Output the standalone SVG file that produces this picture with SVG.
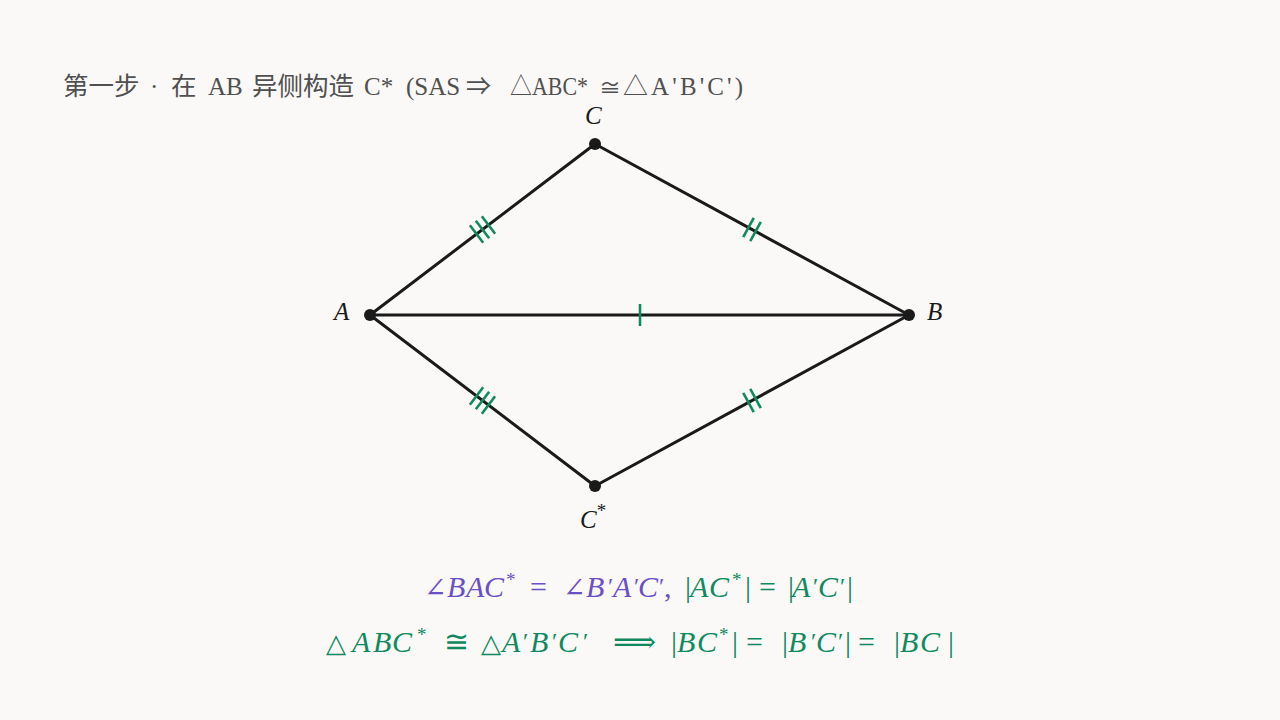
<svg xmlns="http://www.w3.org/2000/svg" width="1280" height="720" viewBox="0 0 1280 720">
<style>
.edge{stroke:#1a1a1a;stroke-width:3;stroke-linecap:round;fill:none}
.tick{stroke:#0f8a5f;stroke-width:2.6;fill:none}
.dot{fill:#1a1a1a}
.lbl{font-family:"Liberation Serif",serif;font-style:italic;font-size:25px;fill:#1a1a1a}
.title{font-family:"Liberation Serif","Noto Sans CJK SC",serif;font-size:25px;fill:#505050}
.cjk{font-family:"Noto Sans CJK SC",sans-serif;font-size:25.5px}
.math{font-family:"Liberation Serif","DejaVu Serif",serif;font-size:30px}
.i{font-style:italic}
.sup{font-size:19px}
.pr{font-size:24px}
.ang{font-size:27px}
.tri{font-size:26px}
.pur{fill:#6a4fc8}
.grn{fill:#0f8a5f}
</style>
<rect width="1280" height="720" fill="#faf9f7"/>
<text class="title" y="95"><tspan class="cjk" x="63">第一步</tspan><tspan x="150">·</tspan><tspan class="cjk" x="171">在</tspan><tspan x="208">AB</tspan><tspan class="cjk" x="252">异侧构造</tspan><tspan x="364">C*</tspan><tspan x="406">(SAS</tspan><tspan x="466">⇒</tspan><tspan x="510" textLength="78" lengthAdjust="spacingAndGlyphs">△ABC*</tspan><tspan x="599" font-size="22">≅</tspan><tspan x="623" textLength="120" lengthAdjust="spacing">△A'B'C')</tspan></text>
<g id="connectors">
<line class="edge" x1="370" y1="315" x2="595" y2="144"/>
<line class="edge" x1="595" y1="144" x2="909" y2="315"/>
<line class="edge" x1="370" y1="315" x2="909" y2="315"/>
<line class="edge" x1="370" y1="315" x2="595" y2="486"/>
<line class="edge" x1="595" y1="486" x2="909" y2="315"/>
<g transform="translate(482.5,229.5) rotate(-37.2)"><line class="tick" x1="-7.5" y1="-11" x2="-7.5" y2="11"/><line class="tick" x1="0" y1="-11" x2="0" y2="11"/><line class="tick" x1="7.5" y1="-11" x2="7.5" y2="11"/></g>
<g transform="translate(752,229.5) rotate(28.6)"><line class="tick" x1="-4" y1="-11" x2="-4" y2="11"/><line class="tick" x1="4" y1="-11" x2="4" y2="11"/></g>
<g transform="translate(640,315)"><line class="tick" x1="0" y1="-11" x2="0" y2="11"/></g>
<g transform="translate(482.5,400.5) rotate(37.2)"><line class="tick" x1="-7.5" y1="-11" x2="-7.5" y2="11"/><line class="tick" x1="0" y1="-11" x2="0" y2="11"/><line class="tick" x1="7.5" y1="-11" x2="7.5" y2="11"/></g>
<g transform="translate(752,400.5) rotate(-28.6)"><line class="tick" x1="-4" y1="-11" x2="-4" y2="11"/><line class="tick" x1="4" y1="-11" x2="4" y2="11"/></g>
</g>
<g id="node-A"><circle class="dot" cx="370" cy="315" r="6"/><text class="lbl" x="334" y="320">A</text></g>
<g id="node-B"><circle class="dot" cx="909" cy="315" r="6"/><text class="lbl" x="927" y="320">B</text></g>
<g id="node-C"><circle class="dot" cx="595" cy="144" r="6"/><text class="lbl" x="585" y="124">C</text></g>
<g id="node-Cstar"><circle class="dot" cx="595" cy="486" r="6"/><text class="lbl" x="580" y="528">C<tspan class="sup" dy="-11" font-style="normal">*</tspan></text></g>
<text class="math pur" y="597"><tspan class="ang" x="424">∠</tspan><tspan class="i" x="447">B</tspan><tspan class="i" x="466">A</tspan><tspan class="i" x="484">C</tspan><tspan class="sup" x="506" y="586">*</tspan><tspan x="530" y="597">=</tspan><tspan class="ang" x="563">∠</tspan><tspan class="i" x="586">B</tspan><tspan class="pr" x="608" y="594">′</tspan><tspan class="i" x="613" y="597">A</tspan><tspan class="pr" x="634" y="594">′</tspan><tspan class="i" x="638" y="597">C</tspan><tspan class="pr" x="659" y="594">′</tspan><tspan x="664" y="597">,</tspan></text>
<text class="math grn" y="597"><tspan x="685">|</tspan><tspan class="i" x="690">A</tspan><tspan class="i" x="709">C</tspan><tspan class="sup" x="732" y="586">*</tspan><tspan x="745" y="597">|</tspan><tspan x="759">=</tspan><tspan x="788">|</tspan><tspan class="i" x="792">A</tspan><tspan class="pr" x="813" y="594">′</tspan><tspan class="i" x="818" y="597">C</tspan><tspan class="pr" x="840" y="594">′</tspan><tspan x="847" y="597">|</tspan></text>
<text class="math grn" y="652"><tspan class="tri" x="326">△</tspan><tspan class="i" x="352">A</tspan><tspan class="i" x="373">B</tspan><tspan class="i" x="392">C</tspan><tspan class="sup" x="417" y="641">*</tspan><tspan x="444" y="652">≅</tspan><tspan class="tri" x="481">△</tspan><tspan class="i" x="502">A</tspan><tspan class="pr" x="523" y="649">′</tspan><tspan class="i" x="530" y="652">B</tspan><tspan class="pr" x="552" y="649">′</tspan><tspan class="i" x="558" y="652">C</tspan><tspan class="pr" x="583" y="649">′</tspan><tspan x="613" y="652">⟹</tspan><tspan x="671">|</tspan><tspan class="i" x="677">B</tspan><tspan class="i" x="697">C</tspan><tspan class="sup" x="719" y="641">*</tspan><tspan x="732" y="652">|</tspan><tspan x="746">=</tspan><tspan x="782">|</tspan><tspan class="i" x="788">B</tspan><tspan class="pr" x="811" y="649">′</tspan><tspan class="i" x="816" y="652">C</tspan><tspan class="pr" x="838" y="649">′</tspan><tspan x="845" y="652">|</tspan><tspan x="858">=</tspan><tspan x="894">|</tspan><tspan class="i" x="900">B</tspan><tspan class="i" x="920">C</tspan><tspan x="948">|</tspan></text>
</svg>
